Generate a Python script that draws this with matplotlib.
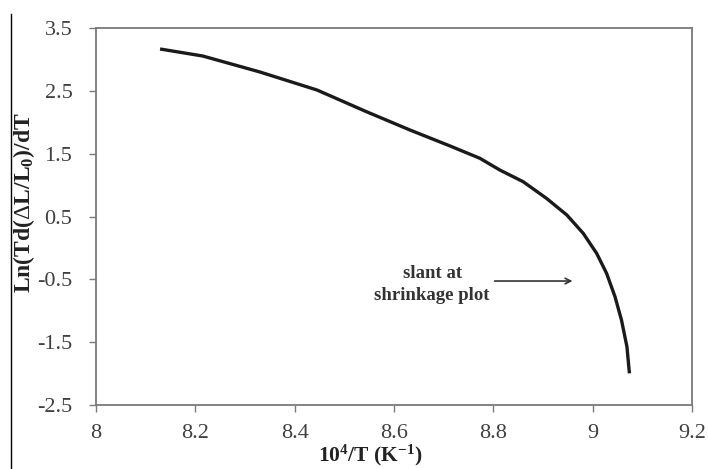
import matplotlib
matplotlib.use("Agg")
import matplotlib.pyplot as plt
from matplotlib.lines import Line2D

plt.rcParams['font.family'] = ['Liberation Serif', 'DejaVu Serif']
plt.rcParams['mathtext.fontset'] = 'custom'
plt.rcParams['mathtext.rm'] = 'Liberation Serif'
plt.rcParams['mathtext.it'] = 'Liberation Serif:italic'
plt.rcParams['mathtext.bf'] = 'Liberation Serif:bold'

# Data
inv_T = [8.129, 8.215, 8.330, 8.445, 8.546, 8.632, 8.713, 8.773, 8.813,
         8.860, 8.907, 8.948, 8.981, 9.008, 9.028, 9.045, 9.058, 9.069, 9.074]
ln_val = [3.166, 3.054, 2.800, 2.513, 2.163, 1.877, 1.622, 1.426, 1.240,
          1.054, 0.789, 0.524, 0.232, -0.086, -0.404, -0.777, -1.147, -1.572, -1.996]
x_ticks = [8, 8.2, 8.4, 8.6, 8.8, 9, 9.2]
x_tick_labels = ['8', '8.2', '8.4', '8.6', '8.8', '9', '9.2']
y_ticks = [-2.5, -1.5, -0.5, 0.5, 1.5, 2.5, 3.5]
y_tick_labels = ['-2.5', '-1.5', '-0.5', '0.5', '1.5', '2.5', '3.5']

fig = plt.figure(figsize=(7.08, 4.69), dpi=100)
ax = fig.add_axes([96/708, 1-405/469, (692-96)/708, (405-28)/469])

ax.plot(inv_T, ln_val, color='#1a1a1a', lw=2.4, solid_capstyle='butt',
        solid_joinstyle='round')

ax.set_xlim(8, 9.2)
ax.set_ylim(-2.5, 3.5)
ax.set_xticks(x_ticks)
ax.set_xticklabels(x_tick_labels)
ax.set_yticks(y_ticks)
ax.set_yticklabels(y_tick_labels)

for s in ax.spines.values():
    s.set_color('#7a7a7a')
    s.set_linewidth(1.3)
ax.tick_params(axis='both', direction='out', length=5, width=1.0,
               color='#7a7a7a', labelsize=16, labelcolor='#404040')
ax.tick_params(axis='y', pad=12)
ax.tick_params(axis='x', pad=9)

ax.set_xlabel(r'10$^\mathbf{4}$/T (K$^\mathbf{-1}$)', fontsize=15.5,
              fontweight='bold', color='#222222')
ax.xaxis.set_label_coords((370-96)/(692-96), -(443-405)/(405-28))
ax.set_ylabel(r'Ln(Td($\Delta$L/L$_\mathbf{0}$)/dT', fontsize=17,
              fontweight='bold', color='#222222')
ax.yaxis.set_label_coords(-(96-37)/(692-96), (405-203)/(405-28))

ax.text(8.677, -0.40, 'slant at', ha='center', va='center', fontsize=13.5,
        fontweight='bold', color='#333333')
ax.text(8.677, -0.75, 'shrinkage plot', ha='center', va='center', fontsize=13.5,
        fontweight='bold', color='#333333')
ax.annotate('', xy=(8.965, -0.527), xytext=(8.797, -0.527),
            arrowprops=dict(arrowstyle='->', color='#333333', lw=1.2))

fig.add_artist(Line2D([11/708, 11/708], [0, 1-14/469], color='black', lw=1.0))

fig.savefig('out.png', dpi=100)
